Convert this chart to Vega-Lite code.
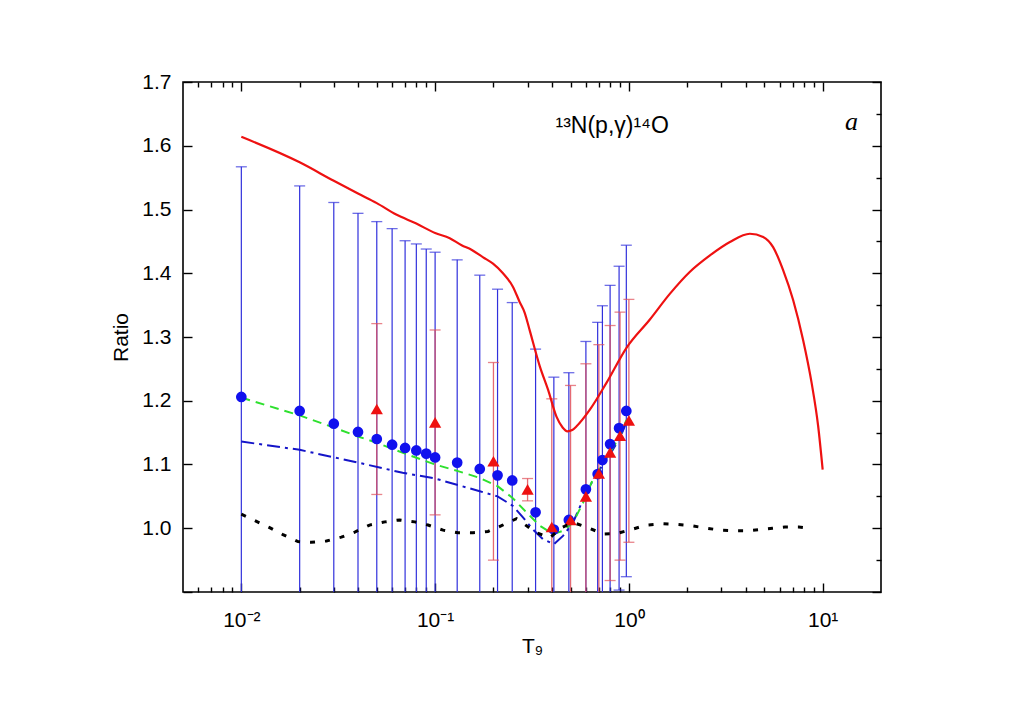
{
  "$schema": "https://vega.github.io/schema/vega-lite/v6.json",
  "width": 698,
  "height": 510,
  "autosize": "none",
  "padding": {"left": 183, "top": 82, "right": 143, "bottom": 119},
  "background": "white",
  "datasets": {
    "blue": [
      {"T": 0.01, "r": 1.206, "lo": 0.845, "hi": 1.567},
      {"T": 0.02, "r": 1.184, "lo": 0.831, "hi": 1.537},
      {"T": 0.03, "r": 1.164, "lo": 0.817, "hi": 1.511},
      {"T": 0.04, "r": 1.151, "lo": 0.808, "hi": 1.494},
      {"T": 0.05, "r": 1.140, "lo": 0.799, "hi": 1.481},
      {"T": 0.06, "r": 1.131, "lo": 0.792, "hi": 1.470},
      {"T": 0.07, "r": 1.126, "lo": 0.801, "hi": 1.451},
      {"T": 0.08, "r": 1.122, "lo": 0.798, "hi": 1.446},
      {"T": 0.09, "r": 1.117, "lo": 0.796, "hi": 1.438},
      {"T": 0.10, "r": 1.111, "lo": 0.789, "hi": 1.433},
      {"T": 0.13, "r": 1.103, "lo": 0.785, "hi": 1.421},
      {"T": 0.17, "r": 1.093, "lo": 0.789, "hi": 1.397},
      {"T": 0.21, "r": 1.083, "lo": 0.791, "hi": 1.375},
      {"T": 0.25, "r": 1.075, "lo": 0.796, "hi": 1.354},
      {"T": 0.33, "r": 1.025, "lo": 0.769, "hi": 1.281},
      {"T": 0.41, "r": 0.998, "lo": 0.759, "hi": 1.237},
      {"T": 0.49, "r": 1.013, "lo": 0.782, "hi": 1.244},
      {"T": 0.60, "r": 1.061, "lo": 0.829, "hi": 1.293},
      {"T": 0.69, "r": 1.085, "lo": 0.847, "hi": 1.323},
      {"T": 0.73, "r": 1.107, "lo": 0.865, "hi": 1.349},
      {"T": 0.80, "r": 1.132, "lo": 0.883, "hi": 1.381},
      {"T": 0.89, "r": 1.157, "lo": 0.903, "hi": 1.411},
      {"T": 0.97, "r": 1.184, "lo": 0.924, "hi": 1.444}
    ],
    "red": [
      {"T": 0.05, "r": 1.187, "lo": 1.053, "hi": 1.321},
      {"T": 0.1, "r": 1.166, "lo": 1.021, "hi": 1.311},
      {"T": 0.2, "r": 1.105, "lo": 0.950, "hi": 1.260},
      {"T": 0.3, "r": 1.061, "lo": 1.043, "hi": 1.078},
      {"T": 0.4, "r": 1.002, "lo": 0.801, "hi": 1.203},
      {"T": 0.5, "r": 1.013, "lo": 0.802, "hi": 1.224},
      {"T": 0.6, "r": 1.050, "lo": 0.842, "hi": 1.258},
      {"T": 0.7, "r": 1.086, "lo": 0.884, "hi": 1.288},
      {"T": 0.8, "r": 1.119, "lo": 0.918, "hi": 1.318},
      {"T": 0.9, "r": 1.145, "lo": 0.950, "hi": 1.339},
      {"T": 1.0, "r": 1.169, "lo": 0.978, "hi": 1.359}
    ],
    "curves": [
      {"series": "red", "T": 0.01, "r": 1.614},
      {"series": "red", "T": 0.02, "r": 1.574},
      {"series": "red", "T": 0.03, "r": 1.545},
      {"series": "red", "T": 0.04, "r": 1.525},
      {"series": "red", "T": 0.05, "r": 1.510},
      {"series": "red", "T": 0.063, "r": 1.492},
      {"series": "red", "T": 0.08, "r": 1.478},
      {"series": "red", "T": 0.1, "r": 1.463},
      {"series": "red", "T": 0.119, "r": 1.455},
      {"series": "red", "T": 0.137, "r": 1.444},
      {"series": "red", "T": 0.154, "r": 1.437},
      {"series": "red", "T": 0.177, "r": 1.425},
      {"series": "red", "T": 0.199, "r": 1.415},
      {"series": "red", "T": 0.224, "r": 1.400},
      {"series": "red", "T": 0.252, "r": 1.379},
      {"series": "red", "T": 0.273, "r": 1.355},
      {"series": "red", "T": 0.29, "r": 1.338},
      {"series": "red", "T": 0.308, "r": 1.310},
      {"series": "red", "T": 0.347, "r": 1.254},
      {"series": "red", "T": 0.383, "r": 1.217},
      {"series": "red", "T": 0.423, "r": 1.175},
      {"series": "red", "T": 0.455, "r": 1.158},
      {"series": "red", "T": 0.482, "r": 1.152},
      {"series": "red", "T": 0.51, "r": 1.154},
      {"series": "red", "T": 0.537, "r": 1.160},
      {"series": "red", "T": 0.629, "r": 1.186},
      {"series": "red", "T": 0.766, "r": 1.228},
      {"series": "red", "T": 0.972, "r": 1.283},
      {"series": "red", "T": 1.28, "r": 1.327},
      {"series": "red", "T": 1.63, "r": 1.368},
      {"series": "red", "T": 2.06, "r": 1.402},
      {"series": "red", "T": 2.62, "r": 1.428},
      {"series": "red", "T": 3.32, "r": 1.449},
      {"series": "red", "T": 4.21, "r": 1.462},
      {"series": "red", "T": 4.93, "r": 1.457},
      {"series": "red", "T": 5.55, "r": 1.441},
      {"series": "red", "T": 6.25, "r": 1.405},
      {"series": "red", "T": 7.04, "r": 1.358},
      {"series": "red", "T": 7.93, "r": 1.295},
      {"series": "red", "T": 8.77, "r": 1.228},
      {"series": "red", "T": 9.48, "r": 1.160},
      {"series": "red", "T": 10.0, "r": 1.092},
      {"series": "green", "T": 0.01, "r": 1.205},
      {"series": "green", "T": 0.02, "r": 1.177},
      {"series": "green", "T": 0.03, "r": 1.158},
      {"series": "green", "T": 0.04, "r": 1.144},
      {"series": "green", "T": 0.05, "r": 1.134},
      {"series": "green", "T": 0.07, "r": 1.117},
      {"series": "green", "T": 0.1, "r": 1.100},
      {"series": "green", "T": 0.13, "r": 1.090},
      {"series": "green", "T": 0.17, "r": 1.079},
      {"series": "green", "T": 0.21, "r": 1.066},
      {"series": "green", "T": 0.25, "r": 1.048},
      {"series": "green", "T": 0.296, "r": 1.025},
      {"series": "green", "T": 0.347, "r": 1.004},
      {"series": "green", "T": 0.406, "r": 0.991},
      {"series": "green", "T": 0.457, "r": 0.996},
      {"series": "green", "T": 0.515, "r": 1.009},
      {"series": "green", "T": 0.58, "r": 1.040},
      {"series": "green", "T": 0.653, "r": 1.077},
      {"series": "green", "T": 0.73, "r": 1.100},
      {"series": "green", "T": 0.796, "r": 1.118},
      {"series": "green", "T": 0.897, "r": 1.144},
      {"series": "green", "T": 0.972, "r": 1.170},
      {"series": "blue", "T": 0.01, "r": 1.136},
      {"series": "blue", "T": 0.02, "r": 1.123},
      {"series": "blue", "T": 0.04, "r": 1.103},
      {"series": "blue", "T": 0.068, "r": 1.087},
      {"series": "blue", "T": 0.1, "r": 1.078},
      {"series": "blue", "T": 0.17, "r": 1.058},
      {"series": "blue", "T": 0.21, "r": 1.050},
      {"series": "blue", "T": 0.252, "r": 1.035},
      {"series": "blue", "T": 0.284, "r": 1.017},
      {"series": "blue", "T": 0.32, "r": 0.998},
      {"series": "blue", "T": 0.36, "r": 0.983},
      {"series": "blue", "T": 0.41, "r": 0.975},
      {"series": "blue", "T": 0.457, "r": 0.988},
      {"series": "blue", "T": 0.515, "r": 1.009},
      {"series": "blue", "T": 0.6, "r": 1.055},
      {"series": "blue", "T": 0.68, "r": 1.085},
      {"series": "blue", "T": 0.8, "r": 1.116},
      {"series": "blue", "T": 0.9, "r": 1.142},
      {"series": "blue", "T": 0.97, "r": 1.166},
      {"series": "black", "T": 0.01, "r": 1.022},
      {"series": "black", "T": 0.014, "r": 1.001},
      {"series": "black", "T": 0.0164, "r": 0.990},
      {"series": "black", "T": 0.0196, "r": 0.979},
      {"series": "black", "T": 0.023, "r": 0.978},
      {"series": "black", "T": 0.0275, "r": 0.980},
      {"series": "black", "T": 0.0328, "r": 0.986},
      {"series": "black", "T": 0.0385, "r": 0.994},
      {"series": "black", "T": 0.0459, "r": 1.005},
      {"series": "black", "T": 0.055, "r": 1.010},
      {"series": "black", "T": 0.0656, "r": 1.013},
      {"series": "black", "T": 0.0785, "r": 1.010},
      {"series": "black", "T": 0.0919, "r": 1.005},
      {"series": "black", "T": 0.110, "r": 0.997},
      {"series": "black", "T": 0.131, "r": 0.993},
      {"series": "black", "T": 0.157, "r": 0.993},
      {"series": "black", "T": 0.1875, "r": 0.995},
      {"series": "black", "T": 0.220, "r": 1.004},
      {"series": "black", "T": 0.263, "r": 1.015},
      {"series": "black", "T": 0.333, "r": 0.993},
      {"series": "black", "T": 0.391, "r": 0.985},
      {"series": "black", "T": 0.449, "r": 1.001},
      {"series": "black", "T": 0.515, "r": 1.009},
      {"series": "black", "T": 0.615, "r": 1.001},
      {"series": "black", "T": 0.736, "r": 0.991},
      {"series": "black", "T": 0.873, "r": 0.992},
      {"series": "black", "T": 1.03, "r": 0.998},
      {"series": "black", "T": 1.23, "r": 1.005},
      {"series": "black", "T": 1.49, "r": 1.007},
      {"series": "black", "T": 1.77, "r": 1.006},
      {"series": "black", "T": 2.10, "r": 1.004},
      {"series": "black", "T": 2.52, "r": 1.000},
      {"series": "black", "T": 2.98, "r": 0.997},
      {"series": "black", "T": 3.56, "r": 0.996},
      {"series": "black", "T": 4.09, "r": 0.996},
      {"series": "black", "T": 4.74, "r": 0.998},
      {"series": "black", "T": 5.51, "r": 1.000},
      {"series": "black", "T": 6.38, "r": 1.002},
      {"series": "black", "T": 7.53, "r": 1.002},
      {"series": "black", "T": 8.69, "r": 1.000}
    ],
    "notes": [
      {"T": 0.82, "r": 1.631, "label": "¹³N(p,γ)¹⁴O", "kind": "reaction"},
      {"T": 14.1, "r": 1.638, "label": "a", "kind": "panel"}
    ]
  },
  "layer": [
    {
      "layer": [
        {
          "data": {"name": "blue"},
          "mark": {"type": "rule", "color": "#3030dc", "strokeWidth": 1.2, "clip": true},
          "encoding": {
            "x": {
              "field": "T", "type": "quantitative",
              "scale": {"type": "log", "domain": [0.005, 20], "nice": false},
              "axis": {
                "orient": "bottom",
                "title": "T₉",
                "titlePadding": 1,
                "values": [0.006, 0.007, 0.008, 0.009, 0.01, 0.02, 0.03, 0.04, 0.05, 0.06, 0.07, 0.08, 0.09, 0.1, 0.2, 0.3, 0.4, 0.5, 0.6, 0.7, 0.8, 0.9, 1, 2, 3, 4, 5, 6, 7, 8, 9, 10],
                "labelExpr": "datum.value == 0.01 ? '10⁻²' : datum.value == 0.1 ? '10⁻¹' : datum.value == 1 ? '10⁰' : datum.value == 10 ? '10¹' : ''",
                "tickSize": {"condition": {"test": "abs(log(datum.value)/LN10 - round(log(datum.value)/LN10)) < 0.01", "value": -9}, "value": -5},
                "labelPadding": 26,
                "labelOverlap": false
              }
            },
            "y": {
              "field": "lo", "type": "quantitative",
              "scale": {"domain": [0.9, 1.7], "nice": false, "zero": false},
              "axis": {
                "orient": "left",
                "title": "Ratio",
                "titlePadding": 10,
                "values": [0.9, 0.95, 1.0, 1.05, 1.1, 1.15, 1.2, 1.25, 1.3, 1.35, 1.4, 1.45, 1.5, 1.55, 1.6, 1.65, 1.7],
                "labelExpr": "(abs(datum.value*10 - round(datum.value*10)) < 0.01 && datum.value > 0.95) ? format(datum.value, '.1f') : ''",
                "tickSize": {"condition": {"test": "abs(datum.value*10 - round(datum.value*10)) < 0.01", "value": -9}, "value": -5},
                "labelPadding": 21,
                "labelOverlap": false
              }
            },
            "y2": {"field": "hi"}
          }
        },
        {
          "data": {"name": "blue"},
          "mark": {"type": "tick", "orient": "horizontal", "color": "#3030dc", "size": 11, "thickness": 1.3, "clip": true},
          "encoding": {
            "x": {"field": "T", "type": "quantitative"},
            "y": {"field": "hi", "type": "quantitative"}
          }
        },
        {
          "data": {"name": "blue"},
          "mark": {"type": "tick", "orient": "horizontal", "color": "#3030dc", "size": 11, "thickness": 1.3, "clip": true},
          "encoding": {
            "x": {"field": "T", "type": "quantitative"},
            "y": {"field": "lo", "type": "quantitative"}
          }
        },
        {
          "data": {"name": "red"},
          "mark": {"type": "rule", "color": "#e0505a", "strokeWidth": 1.3, "opacity": 0.85, "clip": true},
          "encoding": {
            "x": {"field": "T", "type": "quantitative"},
            "y": {"field": "lo", "type": "quantitative"},
            "y2": {"field": "hi"}
          }
        },
        {
          "data": {"name": "red"},
          "mark": {"type": "tick", "orient": "horizontal", "color": "#e0505a", "size": 11, "thickness": 1.3, "clip": true},
          "encoding": {
            "x": {"field": "T", "type": "quantitative"},
            "y": {"field": "hi", "type": "quantitative"}
          }
        },
        {
          "data": {"name": "red"},
          "mark": {"type": "tick", "orient": "horizontal", "color": "#e0505a", "size": 11, "thickness": 1.3, "clip": true},
          "encoding": {
            "x": {"field": "T", "type": "quantitative"},
            "y": {"field": "lo", "type": "quantitative"}
          }
        },
        {
          "data": {"name": "curves"},
          "transform": [{"filter": "datum.series == 'blue'"}],
          "mark": {"type": "line", "color": "#1414c8", "strokeWidth": 2, "strokeDash": [13, 5, 3, 5], "clip": true},
          "encoding": {
            "x": {"field": "T", "type": "quantitative"},
            "y": {"field": "r", "type": "quantitative"}
          }
        },
        {
          "data": {"name": "curves"},
          "transform": [{"filter": "datum.series == 'green'"}],
          "mark": {"type": "line", "color": "#2ee02e", "strokeWidth": 2, "strokeDash": [9, 6], "clip": true},
          "encoding": {
            "x": {"field": "T", "type": "quantitative"},
            "y": {"field": "r", "type": "quantitative"}
          }
        },
        {
          "data": {"name": "curves"},
          "transform": [{"filter": "datum.series == 'red'"}],
          "mark": {"type": "line", "color": "#ee1111", "strokeWidth": 2.2, "interpolate": "monotone", "clip": true},
          "encoding": {
            "x": {"field": "T", "type": "quantitative"},
            "y": {"field": "r", "type": "quantitative"}
          }
        },
        {
          "data": {"name": "blue"},
          "mark": {"type": "point", "shape": "circle", "filled": true, "opacity": 1, "color": "#1111ee", "size": 115},
          "encoding": {
            "x": {"field": "T", "type": "quantitative"},
            "y": {"field": "r", "type": "quantitative"}
          }
        },
        {
          "data": {"name": "red"},
          "mark": {"type": "point", "shape": "triangle-up", "filled": true, "opacity": 1, "color": "#ee1111", "size": 150},
          "encoding": {
            "x": {"field": "T", "type": "quantitative"},
            "y": {"field": "r", "type": "quantitative"}
          }
        },
        {
          "data": {"name": "notes"},
          "transform": [{"filter": "datum.kind == 'reaction'"}],
          "mark": {"type": "text", "font": "Liberation Sans", "fontSize": 23, "align": "center", "baseline": "middle", "color": "#000"},
          "encoding": {
            "x": {"field": "T", "type": "quantitative"},
            "y": {"field": "r", "type": "quantitative"},
            "text": {"field": "label"}
          }
        },
        {
          "data": {"name": "notes"},
          "transform": [{"filter": "datum.kind == 'panel'"}],
          "mark": {"type": "text", "font": "Liberation Serif", "fontStyle": "italic", "fontSize": 26, "align": "center", "baseline": "middle", "color": "#000"},
          "encoding": {
            "x": {"field": "T", "type": "quantitative"},
            "y": {"field": "r", "type": "quantitative"},
            "text": {"field": "label"}
          }
        }
      ]
    },
    {
      "data": {"name": "curves"},
      "transform": [{"filter": "datum.series == 'black'"}],
      "mark": {"type": "line", "color": "#000", "strokeWidth": 3, "strokeDash": [5, 10], "clip": true},
      "encoding": {
        "x": {
          "field": "T", "type": "quantitative",
          "scale": {"type": "log", "domain": [0.005, 20], "nice": false},
          "axis": {
            "orient": "top",
            "title": null,
            "labels": false,
            "values": [0.006, 0.007, 0.008, 0.009, 0.01, 0.02, 0.03, 0.04, 0.05, 0.06, 0.07, 0.08, 0.09, 0.1, 0.2, 0.3, 0.4, 0.5, 0.6, 0.7, 0.8, 0.9, 1, 2, 3, 4, 5, 6, 7, 8, 9, 10],
            "tickSize": {"condition": {"test": "abs(log(datum.value)/LN10 - round(log(datum.value)/LN10)) < 0.01", "value": -9}, "value": -5}
          }
        },
        "y": {
          "field": "r", "type": "quantitative",
          "scale": {"domain": [0.9, 1.7], "nice": false, "zero": false},
          "axis": {
            "orient": "right",
            "title": null,
            "labels": false,
            "values": [0.9, 0.95, 1.0, 1.05, 1.1, 1.15, 1.2, 1.25, 1.3, 1.35, 1.4, 1.45, 1.5, 1.55, 1.6, 1.65, 1.7],
            "tickSize": {"condition": {"test": "abs(datum.value*10 - round(datum.value*10)) < 0.01", "value": -9}, "value": -5}
          }
        }
      }
    }
  ],
  "resolve": {"axis": {"x": "independent", "y": "independent"}},
  "config": {
    "view": {"stroke": "#000", "strokeWidth": 1.6},
    "font": "Liberation Sans",
    "axis": {
      "grid": false,
      "domain": false,
      "tickColor": "#000",
      "tickWidth": 1.4,
      "labelFont": "Liberation Sans",
      "labelFontSize": 21,
      "labelColor": "#000",
      "titleFont": "Liberation Sans",
      "titleFontSize": 21,
      "titleFontWeight": "normal",
      "titleColor": "#000"
    }
  }
}
